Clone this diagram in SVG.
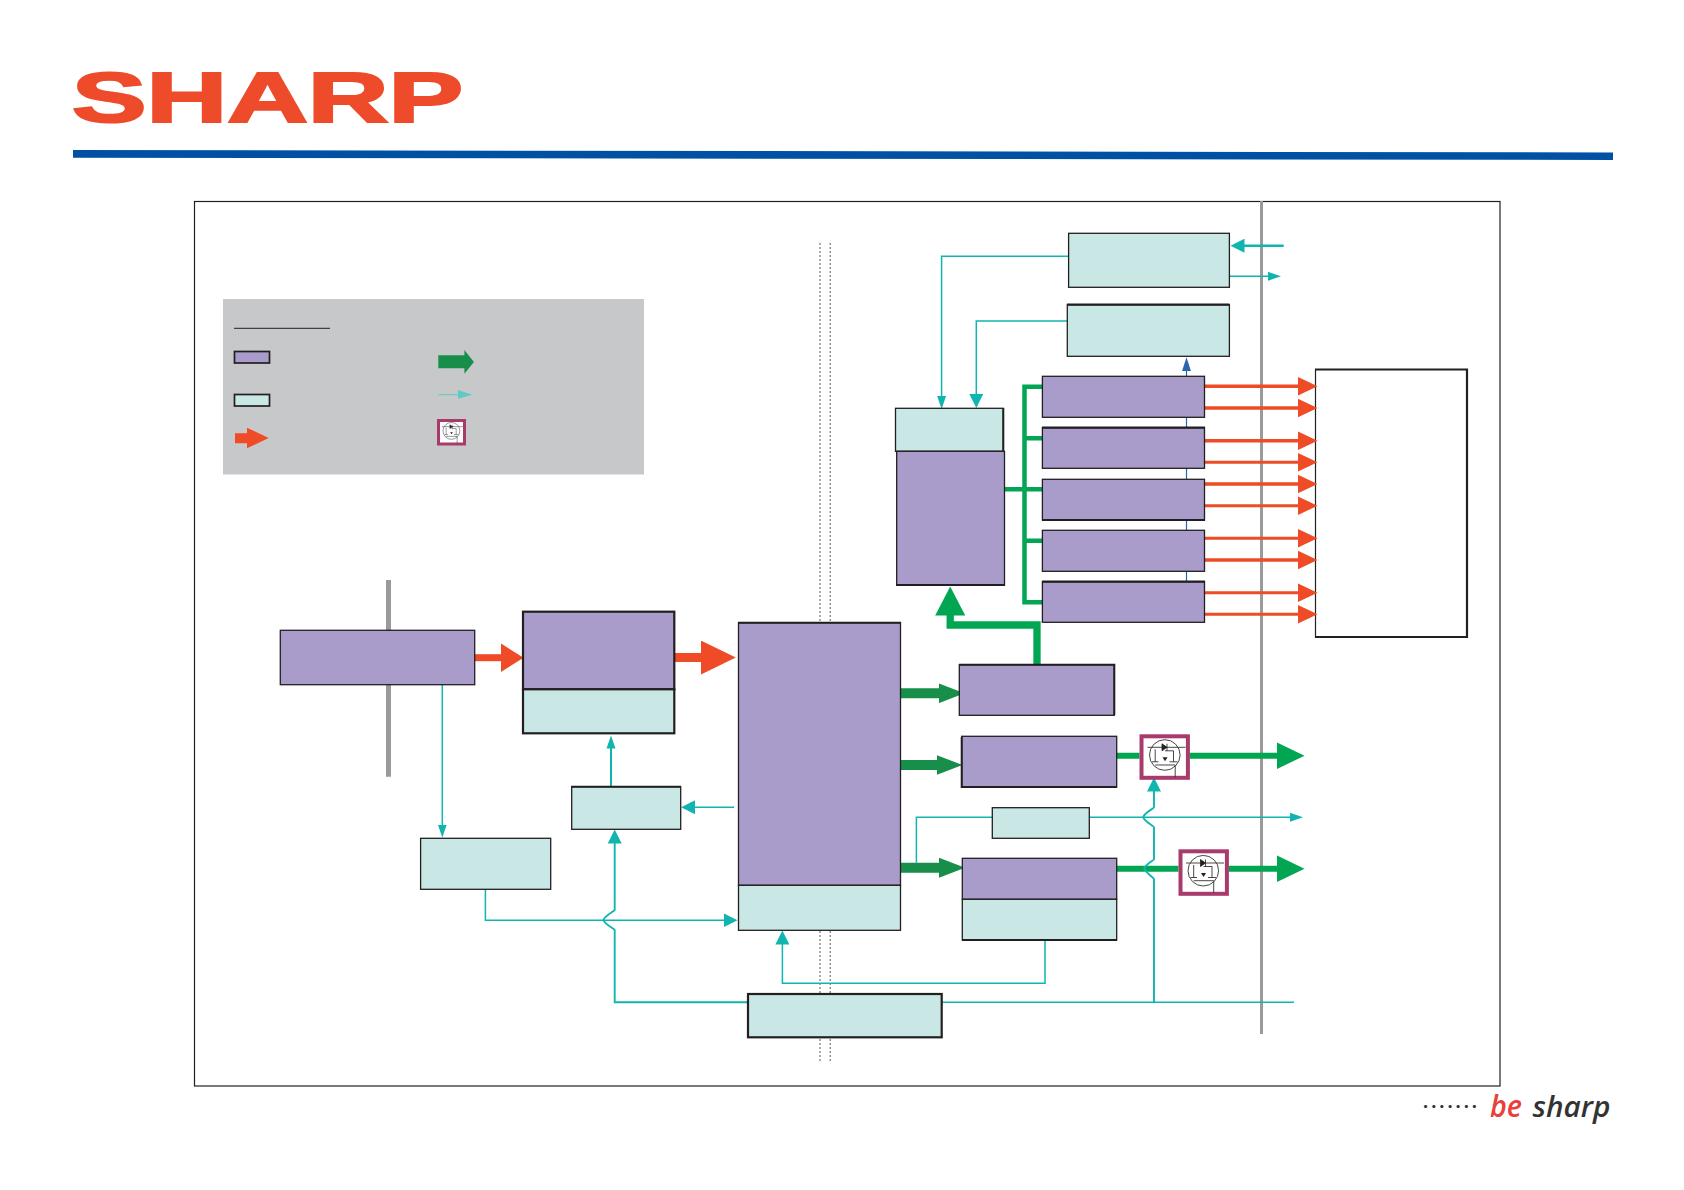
<svg xmlns="http://www.w3.org/2000/svg" xmlns:xlink="http://www.w3.org/1999/xlink" width="1684" height="1190" viewBox="0 0 1684 1190">
<style>
.p{fill:#a99ccb;stroke:#231f20;stroke-width:1.3}
.t{fill:#c8e7e5;stroke:#231f20;stroke-width:1.3}
.tk{stroke-width:2.2}
.sw{stroke-width:1.7}
.c{fill:none;stroke:#11b5b0;stroke-width:1.5}
.c18{stroke-width:1.9}
.c2{fill:none;stroke:#11b5b0;stroke-width:2}
.c25{fill:none;stroke:#11b5b0;stroke-width:2.6}
.r{fill:none;stroke:#ee4b26}
.g{fill:none;stroke:#00a651}
.dg{fill:none;stroke:#178f4b}
.grey{stroke:#999a9c;fill:none}
.dot{stroke:#555658;stroke-width:1;stroke-dasharray:2 2;fill:none}
.mos-box{fill:#fff;stroke:#a83a6c}
.mos{fill:none;stroke:#333;stroke-width:.9}
</style>
<defs>
<marker id="c9" markerUnits="userSpaceOnUse" markerWidth="13" markerHeight="10" refX="0.5" refY="5" orient="auto"><path d="M0 .5L13 5L0 9.500z" fill="#11b5b0"/></marker>
<marker id="c14" markerUnits="userSpaceOnUse" markerWidth="14" markerHeight="14" refX="0.5" refY="7" orient="auto"><path d="M0 0L14 7L0 14z" fill="#11b5b0"/></marker>
<marker id="red" markerUnits="userSpaceOnUse" markerWidth="20" markerHeight="20" refX="0.5" refY="10" orient="auto"><path d="M0 .5L20 10L0 19.500z" fill="#ee4b26"/></marker>
<marker id="red2" markerUnits="userSpaceOnUse" markerWidth="23" markerHeight="29" refX="0.5" refY="14.5" orient="auto"><path d="M0 0L23 14.500L0 29z" fill="#ee4b26"/></marker>
<marker id="red3" markerUnits="userSpaceOnUse" markerWidth="35" markerHeight="34" refX="0.5" refY="17" orient="auto"><path d="M0 0L35 17L0 34z" fill="#ee4b26"/></marker>
<marker id="dg" markerUnits="userSpaceOnUse" markerWidth="26" markerHeight="20" refX="0.5" refY="10" orient="auto"><path d="M0 0L26 10L0 20z" fill="#178f4b"/></marker>
<marker id="g27" markerUnits="userSpaceOnUse" markerWidth="28" markerHeight="27" refX="0.5" refY="13.5" orient="auto"><path d="M0 0L28 13.500L0 27z" fill="#00a651"/></marker>
<marker id="g30" markerUnits="userSpaceOnUse" markerWidth="29" markerHeight="30" refX="0.5" refY="15" orient="auto"><path d="M0 0L29 15L0 30z" fill="#00a651"/></marker>
<marker id="blue" markerUnits="userSpaceOnUse" markerWidth="14" markerHeight="10" refX="0.5" refY="5" orient="auto"><path d="M0 .5L14 5L0 9.500z" fill="#2a66ae"/></marker>
<g id="fet-sym">
<circle class="mos" cx="25.3" cy="20.7" r="15.3"/>
<path class="mos" d="M8 13H46M15.700 15V27.500M19 27.500H12.500M25.500 16.500H34V27.500M30 27.500H38M15.700 30.700H35.700V43"/>
<path d="M22.500 9.500L27.500 13L22.500 16.500zM27.500 9.500V16.500" fill="#222" stroke="#222" stroke-width=".8"/>
<path d="M23 23H28L25.500 27z" fill="#222"/>
</g>
</defs>

<g id="logo">
<text x="72" y="121.500" font-family="'Liberation Sans',Arial,sans-serif" font-weight="700" font-size="71" textLength="391" lengthAdjust="spacingAndGlyphs" fill="#ee4b2b" stroke="#ee4b2b" stroke-width="2.200">SHARP</text>
<polygon points="73,150 1613,152.500 1613,160 73,157.700" fill="#0050a4"/>
</g>

<g id="frame">
<rect x="194.500" y="201.500" width="1305.500" height="884.500" fill="#fff" stroke="#231f20" stroke-width="1.200"/>
</g>

<g id="legend">
<rect x="223" y="299" width="421" height="175.500" fill="#c7c8ca"/>
<line x1="234" y1="328.300" x2="330" y2="328.300" stroke="#231f20" stroke-width="1"/>
<rect class="p sw" x="234.500" y="351.500" width="35" height="11.500"/>
<rect class="t sw" x="234.500" y="394.500" width="35" height="11.500"/>
<path d="M235 433.300H247V427.700L268.700 438L247 448.300V443.300H235z" fill="#ee4b26"/>
<path d="M438.300 355.300H464.400V350L473.900 362L464.400 373.700V368.300H438.300z" fill="#178f4b"/>
<line x1="438.300" y1="394.700" x2="458" y2="394.700" stroke="#5fc9c3" stroke-width="1"/>
<path d="M458 390L472.300 394.700L458 398.700z" fill="#5fc9c3"/>
<rect class="mos-box" x="438.500" y="420.500" width="26" height="23.500" stroke-width="3"/>
<use xlink:href="#fet-sym" href="#fet-sym" transform="translate(437.500,419.500) scale(.55,.55)"/>
</g>

<g id="guides">
<line class="dot" x1="820" y1="243" x2="820" y2="1062"/>
<line class="dot" x1="830.200" y1="243" x2="830.200" y2="1062"/>
<line class="grey" stroke-width="5" x1="388.500" y1="580" x2="388.500" y2="776.700"/>
<line class="grey" stroke-width="3" x1="1261.500" y1="201" x2="1261.500" y2="1034"/>
</g>

<g id="box-panel">
<rect x="1315.500" y="369" width="151.500" height="268" fill="#fff"/>
<path d="M1315.500 369V637.700" fill="none" stroke="#231f20" stroke-width="1.200"/>
<path d="M1315 369.500H1467V637H1315" fill="none" stroke="#231f20" stroke-width="2.200"/>
</g>

<g id="connectors">
<path class="c" d="M1068.600 256.300H941.600V396.500" marker-end="url(#c9)"/>
<path class="c" d="M1067.300 321H976.300V394.500" marker-end="url(#c14)"/>
<path class="c25" d="M1283.700 245.700H1244" marker-end="url(#c14)"/>
<path class="c" d="M1229.400 276.300H1268.500" marker-end="url(#c9)"/>
<path d="M1186.500 581.500V370.700" fill="none" stroke="#2a66ae" stroke-width="1.200" marker-end="url(#blue)"/>
<path class="r" stroke-width="3.500" d="M1204.500 386.300H1298" marker-end="url(#red)"/>
<path class="r" stroke-width="3.500" d="M1204.500 408H1298" marker-end="url(#red)"/>
<path class="r" stroke-width="3.500" d="M1204.500 440.700H1298" marker-end="url(#red)"/>
<path class="r" stroke-width="3" d="M1204.500 462.300H1298" marker-end="url(#red)"/>
<path class="r" stroke-width="3.500" d="M1204.500 484H1298" marker-end="url(#red)"/>
<path class="r" stroke-width="3" d="M1204.500 505.700H1298" marker-end="url(#red)"/>
<path class="r" stroke-width="3" d="M1204.500 538.300H1298" marker-end="url(#red)"/>
<path class="r" stroke-width="3.500" d="M1204.500 560H1298" marker-end="url(#red)"/>
<path class="r" stroke-width="3" d="M1204.500 592.700H1298" marker-end="url(#red)"/>
<path class="r" stroke-width="3" d="M1204.500 614.300H1298" marker-end="url(#red)"/>
<path class="g" stroke-width="4.500" d="M1042.400 386.700H1024.500V602.300H1042.400M1024.500 438.300H1042.400M1004.500 489.300H1042.400M1024.500 540.700H1042.400"/>
<path class="g" stroke-width="7.300" d="M1037 664.700V625H950.200V615" marker-end="url(#g30)"/>
<path class="r" stroke-width="7" d="M474.700 657.700H501" marker-end="url(#red2)"/>
<path class="r" stroke-width="9" d="M674.300 657.500H701.300" marker-end="url(#red3)"/>
<path class="dg" stroke-width="10" d="M900.600 693.300H939" marker-end="url(#dg)"/>
<path class="dg" stroke-width="10" d="M900.600 765H937" marker-end="url(#dg)"/>
<path class="dg" stroke-width="10" d="M900.600 867.700H939.500" marker-end="url(#dg)"/>
<path class="g" stroke-width="6" d="M1116.700 755.700H1139.500M1189.700 755.700H1277" marker-end="url(#g27)"/>
<path class="g" stroke-width="6" d="M1116.700 868.700H1178.500M1228.700 868.700H1277" marker-end="url(#g27)"/>
<path class="c" d="M442.300 684.700V825" marker-end="url(#c9)"/>
<path class="c" d="M485.400 889.300V920.300H724" marker-end="url(#c14)"/>
<path class="c2" d="M611 786.700V748" marker-end="url(#c9)"/>
<path class="c" d="M734 807.300H694.600" marker-end="url(#c14)"/>
<path class="c c18" d="M748 1002.300H614.700V930C614.700 929 604 924 603.500 920C604 916 614.700 911 614.700 910V843" marker-end="url(#c14)"/>
<path class="c" d="M1045 940V983.300H782.400V944" marker-end="url(#c14)"/>
<path class="c" d="M992.300 817.300H916.400V862.700"/>
<path class="c" d="M1089.300 817.300H1290.500" marker-end="url(#c9)"/>
<path class="c" d="M941.700 1002.300H1294"/>
<path class="c c18" d="M1154 1002.300V879C1154 878 1144.800 872 1144.300 868.700C1144.800 865 1154 860 1154 859.300V827.300C1154 826 1143.800 821 1143.300 817.300C1143.800 813 1154 808.500 1154 807.300V791" marker-end="url(#c14)"/>
</g>

<g id="box-input"><rect class="p" x="280.300" y="630.300" width="194.400" height="54.400"/></g>
<g id="box-stage2">
<rect class="p tk" x="523" y="611.700" width="151.300" height="77.600"/>
<rect class="t tk" x="523" y="689.300" width="151.300" height="44"/>
</g>
<g id="box-c"><rect class="t" x="571.700" y="786.700" width="109" height="42.600"/><line x1="571" y1="786.700" x2="681" y2="786.700" stroke="#231f20" stroke-width="2"/></g>
<g id="box-d"><rect class="t" x="420.600" y="838.300" width="130.100" height="51"/></g>
<g id="box-main">
<rect class="p" x="738.500" y="622.700" width="162" height="262.600"/>
<rect class="t" x="738.500" y="885.300" width="162" height="45"/>
<line x1="738" y1="622.700" x2="901" y2="622.700" stroke="#231f20" stroke-width="2"/>
</g>
<g id="box-bottom"><rect class="t tk" x="748" y="994" width="193.700" height="43.300"/></g>
<g id="box-a"><rect class="p" x="959.300" y="664.700" width="155" height="50.600"/><path d="M959 664.700H1114.300V715" fill="none" stroke="#231f20" stroke-width="2"/></g>
<g id="box-g"><rect class="p" x="961.700" y="736.300" width="155" height="50.700"/><path d="M961.700 737V787H1117" fill="none" stroke="#231f20" stroke-width="2"/></g>
<g id="box-f"><rect class="t" x="992.300" y="807.700" width="97" height="30.600"/></g>
<g id="box-e">
<rect class="p" x="962.300" y="858.300" width="154.400" height="41"/>
<rect class="t" x="962.300" y="899.300" width="154.400" height="40.700"/>
<line x1="962" y1="940" x2="1117" y2="940" stroke="#231f20" stroke-width="2"/>
</g>
<g id="box-top1"><rect class="t" x="1068.600" y="233.300" width="160.800" height="54"/></g>
<g id="box-top2"><rect class="t" x="1067.300" y="304.700" width="162.100" height="51.600"/><line x1="1067" y1="304.700" x2="1229.500" y2="304.700" stroke="#231f20" stroke-width="2.200"/></g>
<g id="box-left-stack">
<rect class="t" x="895.500" y="408.300" width="107.800" height="43"/>
<line x1="1003.300" y1="408" x2="1003.300" y2="451" stroke="#231f20" stroke-width="2"/>
<rect class="p" x="896.700" y="451.300" width="107.800" height="133.700"/>
<line x1="896" y1="585" x2="1005" y2="585" stroke="#231f20" stroke-width="2"/>
</g>
<g id="box-drv1"><rect class="p" x="1042.400" y="376.300" width="162.100" height="41"/></g>
<g id="box-drv2"><rect class="p" x="1042.400" y="427.700" width="162.100" height="40.600"/><line x1="1042" y1="427.700" x2="1205" y2="427.700" stroke="#231f20" stroke-width="2.200"/></g>
<g id="box-drv3"><rect class="p" x="1042.400" y="479.300" width="162.100" height="40.700"/><line x1="1042" y1="520" x2="1205" y2="520" stroke="#231f20" stroke-width="2.200"/></g>
<g id="box-drv4"><rect class="p" x="1042.400" y="530.300" width="162.100" height="41"/></g>
<g id="box-drv5"><rect class="p" x="1042.400" y="581.700" width="162.100" height="40.600"/><line x1="1042" y1="581.700" x2="1205" y2="581.700" stroke="#231f20" stroke-width="2.200"/></g>
<g id="fet1"><rect class="mos-box" x="1141.500" y="736.300" width="46.400" height="41.500" stroke-width="4"/><use xlink:href="#fet-sym" href="#fet-sym" transform="translate(1139.500,734.300)"/></g>
<g id="fet2"><rect class="mos-box" x="1180.500" y="851.300" width="46.400" height="42.500" stroke-width="4"/><use xlink:href="#fet-sym" href="#fet-sym" transform="translate(1178,850)"/></g>

<g id="tagline">
<text x="1423" y="1108" font-family="'Open Sans',sans-serif" font-size="18" textLength="54" fill="#333" font-weight="700">.......</text>
<text x="1490" y="1117" font-family="'Open Sans',sans-serif" font-size="30" font-weight="600" textLength="32" lengthAdjust="spacingAndGlyphs" fill="#e8403a" font-style="italic">be</text>
<text x="1532.500" y="1117" font-family="'Open Sans',sans-serif" font-size="28" font-weight="600" textLength="78" lengthAdjust="spacingAndGlyphs" fill="#333" font-style="italic">sharp</text>
</g>
</svg>
